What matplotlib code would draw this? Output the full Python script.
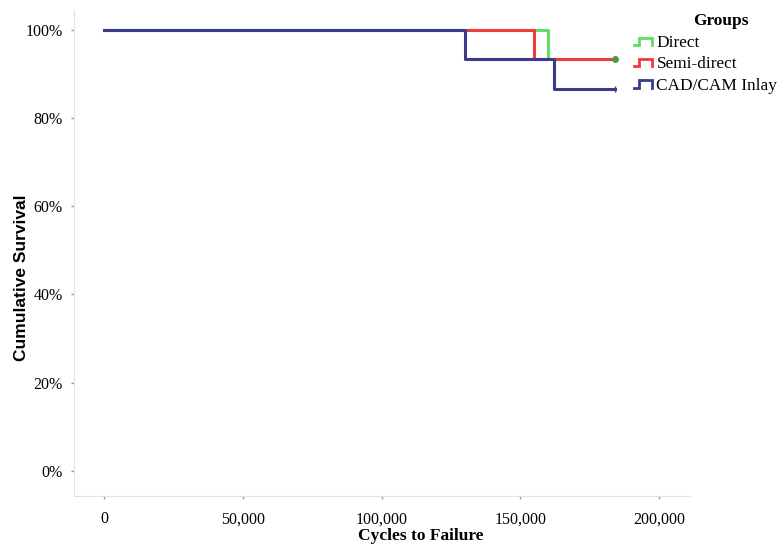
import matplotlib
matplotlib.use("Agg")
import matplotlib.pyplot as plt
import matplotlib.ticker as mticker
from matplotlib.legend_handler import HandlerBase
from matplotlib.lines import Line2D

plt.rcParams["font.family"] = ["Liberation Serif", "DejaVu Serif"]

# Kaplan-Meier step data (cycles, survival %)
groups = ["Direct", "Semi-direct", "CAD/CAM Inlay"]
colors_ = ["#62dc62", "#ee3b3b", "#3a3a8e"]
times = [
    [0, 160000, 184000],
    [0, 155000, 184000],
    [0, 130000, 162000, 184000],
]
survival = [
    [100.0, 93.3, 93.3],
    [100.0, 93.3, 93.3],
    [100.0, 93.3, 86.7, 86.7],
]
xticks = [0, 50000, 100000, 150000, 200000]
yticks = [0, 20, 40, 60, 80, 100]


class StepHandler(HandlerBase):
    # small step icon as legend key
    def create_artists(self, legend, orig_handle, xdescent, ydescent,
                       width, height, fontsize, trans):
        w, h = width, height
        xs = [0, 0.3 * w, 0.3 * w, w, w]
        ys = [0.15 * h, 0.15 * h, 0.75 * h, 0.75 * h, 0.15 * h]
        ln = Line2D(xs, ys, color=orig_handle.get_color(), lw=2.0,
                    transform=trans, solid_joinstyle="miter")
        return [ln]


fig = plt.figure(figsize=(7.83, 5.51), dpi=100)
ax = fig.add_axes([0.0945, 0.0998, 0.787, 0.882])

handles = []
for name, c, t, s in zip(groups, colors_, times, survival):
    ln, = ax.step(t, s, where="post", color=c, lw=2.2, label=name)
    handles.append(ln)

# censor marks at end of follow-up
ax.plot([184000], [93.3], marker="o", ms=4, color="#4a9a4a")
ax.plot([184000], [86.7], marker="|", ms=4, color=colors_[2])

ax.set_xlim(-10800, 211200)
ax.set_ylim(-5.7, 104.5)
ax.set_xticks(xticks)
ax.set_yticks(yticks)
ax.xaxis.set_major_formatter(mticker.FuncFormatter(lambda v, p: f"{int(v):,}"))
ax.yaxis.set_major_formatter(mticker.FuncFormatter(lambda v, p: f"{int(v)}%"))
ax.tick_params(length=2, width=1, color="#999999", labelsize=11.5)
ax.tick_params(axis="x", pad=9)
ax.tick_params(axis="y", pad=6)

for side in ["top", "right"]:
    ax.spines[side].set_visible(False)
for side in ["left", "bottom"]:
    ax.spines[side].set_color("#e2e2e2")

ax.set_xlabel("Cycles to Failure", fontsize=12.5, fontweight="bold")
ax.xaxis.set_label_coords(0.563, -0.066)
ax.set_ylabel("Cumulative Survival", fontsize=12.5, fontweight="bold",
              family="Liberation Sans")
ax.yaxis.set_label_coords(-0.073, 0.449)

fig.text(721 / 783, 1 - 21 / 551, "Groups", fontsize=12.5, fontweight="bold",
         ha="center", va="center")
leg = fig.legend(handles=handles, labels=groups, loc="upper left",
                 bbox_to_anchor=(634 / 783, 1 - 35 / 551), frameon=False,
                 handler_map={Line2D: StepHandler()}, fontsize=12.4,
                 handlelength=1.05, handletextpad=0.25, labelspacing=0.3,
                 borderpad=0, borderaxespad=0)

fig.savefig("out.png", dpi=100)
